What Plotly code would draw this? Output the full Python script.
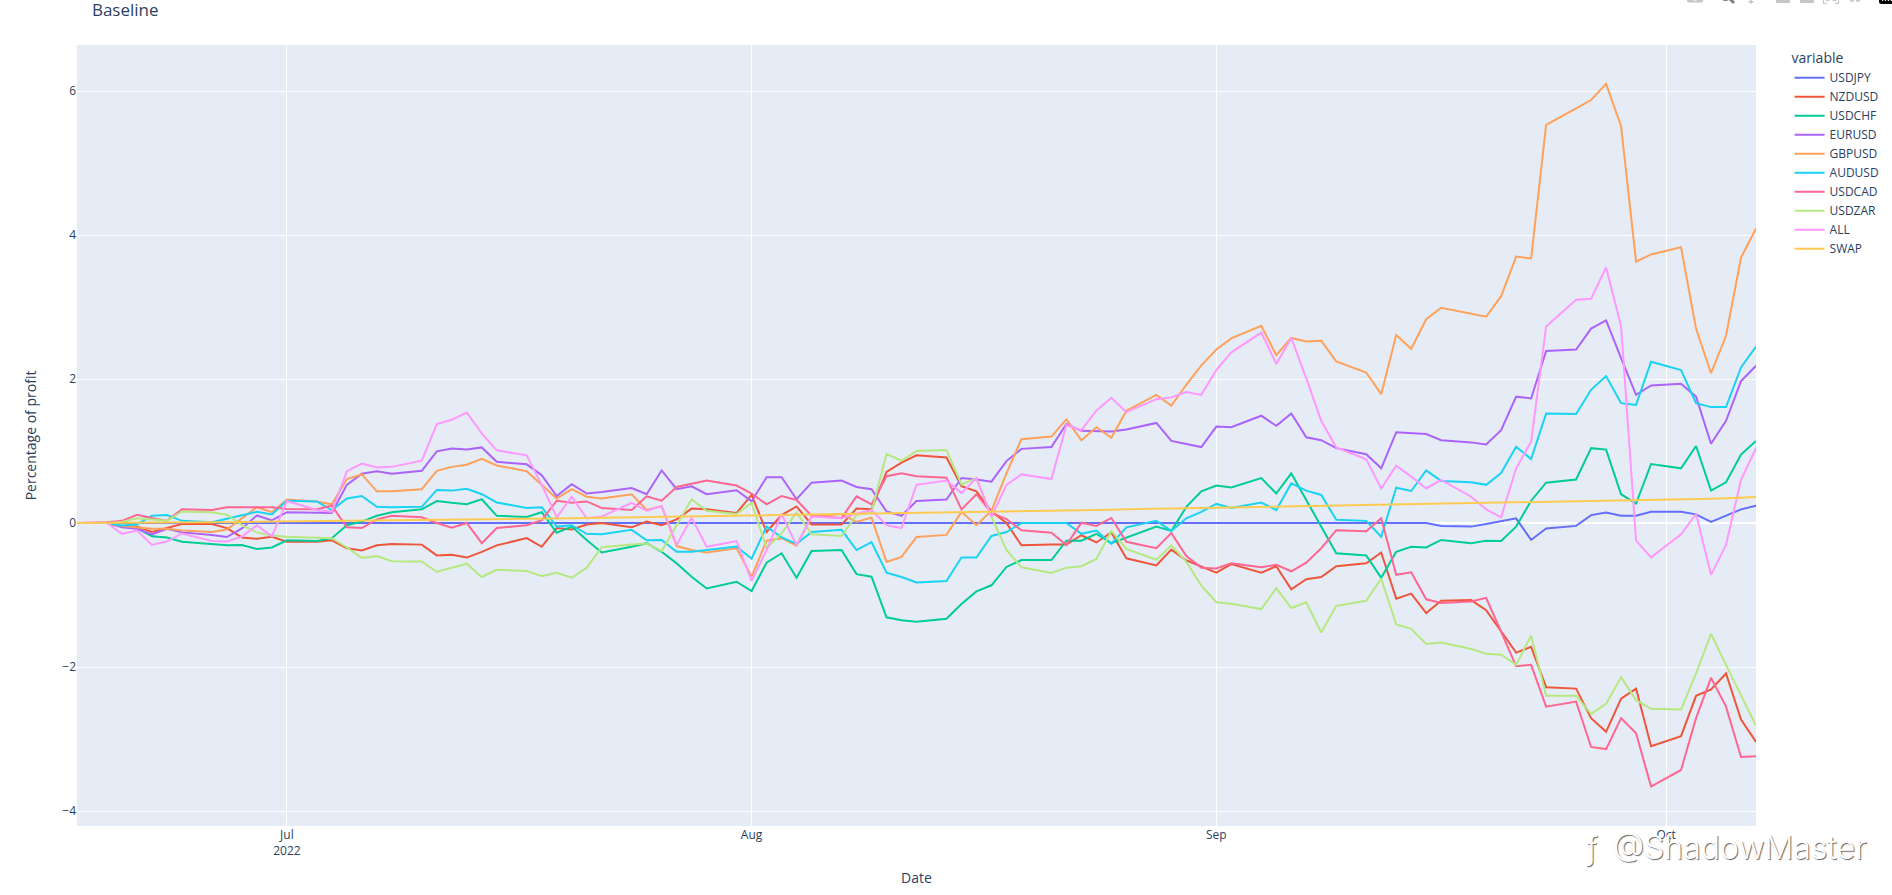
import plotly.graph_objects as go

dates = [
 "2022-06-17",
 "2022-06-19","2022-06-20","2022-06-21","2022-06-22","2022-06-23","2022-06-24",
 "2022-06-26","2022-06-27","2022-06-28","2022-06-29","2022-06-30","2022-07-01",
 "2022-07-03","2022-07-04","2022-07-05","2022-07-06","2022-07-07","2022-07-08",
 "2022-07-10","2022-07-11","2022-07-12","2022-07-13","2022-07-14","2022-07-15",
 "2022-07-17","2022-07-18","2022-07-19","2022-07-20","2022-07-21","2022-07-22",
 "2022-07-24","2022-07-25","2022-07-26","2022-07-27","2022-07-28","2022-07-29",
 "2022-07-31","2022-08-01","2022-08-02","2022-08-03","2022-08-04","2022-08-05",
 "2022-08-07","2022-08-08","2022-08-09","2022-08-10","2022-08-11","2022-08-12",
 "2022-08-14","2022-08-15","2022-08-16","2022-08-17","2022-08-18","2022-08-19",
 "2022-08-21","2022-08-22","2022-08-23","2022-08-24","2022-08-25","2022-08-26",
 "2022-08-28","2022-08-29","2022-08-30","2022-08-31","2022-09-01","2022-09-02",
 "2022-09-04","2022-09-05","2022-09-06","2022-09-07","2022-09-08","2022-09-09",
 "2022-09-11","2022-09-12","2022-09-13","2022-09-14","2022-09-15","2022-09-16",
 "2022-09-18","2022-09-19","2022-09-20","2022-09-21","2022-09-22","2022-09-23",
 "2022-09-25","2022-09-26","2022-09-27","2022-09-28","2022-09-29","2022-09-30",
 "2022-10-02","2022-10-03","2022-10-04","2022-10-05","2022-10-06","2022-10-07",
]

USDJPY = [0,
 0,0,0,0,0,0, 0,0,0,0,0,0, 0,0,0,0,0,0, 0,0,0,0,0,0, 0,0,0,0,0,0, 0,0,0,0,0,0,
 0,0,0,0,0,0, 0,0,0,0,0,0, 0,0,0,0,0,0, 0,0,0,0,0,0, 0,0,0,0,0,0, 0,0,0,0,0,0,
 0,0,0,0,0,-0.04,
 -0.05,-0.015,0.02,0.065,-0.235,-0.075,
 -0.04,0.11,0.145,0.1,0.1,0.155,
 0.155,0.12,0.015,0.1,0.19,0.24]
NZDUSD = [0,
 0,-0.05,-0.05,-0.125,-0.07,-0.015,
 -0.015,-0.07,-0.2,-0.22,-0.19,-0.26,
 -0.26,-0.24,-0.35,-0.38,-0.31,-0.29,
 -0.30,-0.45,-0.44,-0.48,-0.40,-0.31,
 -0.21,-0.33,-0.07,-0.09,-0.02,0,
 -0.06,0.02,-0.03,0.05,0.2,0.19,
 0.14,0.39,-0.125,0.11,0.23,-0.02,
 -0.02,0.2,0.19,0.71,0.84,0.94,
 0.91,0.51,0.44,0.16,0.0,-0.31,
 -0.30,-0.30,-0.17,-0.27,-0.13,-0.49,
 -0.59,-0.37,-0.52,-0.61,-0.69,-0.57,
 -0.69,-0.6,-0.92,-0.78,-0.75,-0.6,
 -0.56,-0.41,-1.05,-0.98,-1.25,-1.08,
 -1.07,-1.21,-1.5,-1.8,-1.72,-2.28,
 -2.3,-2.71,-2.9,-2.44,-2.3,-3.1,
 -2.96,-2.4,-2.31,-2.09,-2.73,-3.04]
USDCHF = [0,
 0,-0.05,-0.07,-0.185,-0.2,-0.26,
 -0.3,-0.31,-0.305,-0.36,-0.34,-0.24,
 -0.25,-0.21,-0.03,0.02,0.10,0.15,
 0.19,0.305,0.28,0.26,0.33,0.10,
 0.085,0.15,-0.135,-0.05,-0.235,-0.41,
 -0.33,-0.28,-0.4,-0.56,-0.745,-0.91,
 -0.815,-0.945,-0.55,-0.42,-0.76,-0.39,
 -0.375,-0.71,-0.745,-1.31,-1.35,-1.37,
 -1.33,-1.125,-0.95,-0.865,-0.61,-0.515,
 -0.515,-0.245,-0.245,-0.15,-0.28,-0.2,
 -0.05,-0.11,0.225,0.44,0.52,0.495,
 0.625,0.41,0.69,0.32,-0.05,-0.42,
 -0.45,-0.76,-0.4,-0.33,-0.34,-0.235,
 -0.28,-0.245,-0.25,-0.05,0.31,0.56,
 0.605,1.04,1.02,0.40,0.27,0.82,
 0.76,1.07,0.45,0.565,0.95,1.14]
EURUSD = [0,
 0,-0.06,-0.08,-0.16,-0.08,-0.13,
 -0.165,-0.195,-0.075,0.105,0.035,0.15,
 0.145,0.14,0.53,0.685,0.72,0.685,
 0.725,0.995,1.035,1.02,1.05,0.85,
 0.815,0.665,0.375,0.54,0.41,0.43,
 0.485,0.40,0.73,0.47,0.51,0.4,
 0.455,0.3,0.635,0.635,0.33,0.56,
 0.59,0.5,0.47,0.16,0.10,0.305,
 0.325,0.625,0.605,0.575,0.86,1.03,
 1.055,1.375,1.28,1.28,1.27,1.3,
 1.39,1.14,1.10,1.055,1.34,1.33,
 1.49,1.35,1.52,1.19,1.15,1.04,
 0.955,0.76,1.26,1.25,1.235,1.15,
 1.12,1.09,1.29,1.755,1.73,2.39,
 2.41,2.70,2.815,2.29,1.78,1.91,
 1.935,1.755,1.10,1.42,1.97,2.185]
GBPUSD = [0,
 0,-0.04,-0.06,-0.08,-0.08,-0.105,
 -0.125,-0.09,0.065,0.22,0.15,0.325,
 0.3,0.26,0.61,0.675,0.44,0.44,
 0.47,0.725,0.78,0.81,0.89,0.8,
 0.72,0.53,0.34,0.47,0.365,0.34,
 0.40,0.18,0.235,-0.32,-0.375,-0.41,
 -0.35,-0.745,-0.245,-0.21,-0.315,0.09,
 0.125,0.015,0.075,-0.54,-0.47,-0.195,
 -0.165,0.155,-0.03,0.17,0.69,1.165,
 1.2,1.44,1.15,1.33,1.185,1.56,
 1.78,1.63,1.92,2.19,2.41,2.565,
 2.74,2.33,2.57,2.52,2.53,2.245,
 2.09,1.79,2.61,2.42,2.83,2.99,
 2.91,2.865,3.15,3.7,3.675,5.53,
 5.76,5.875,6.1,5.51,3.63,3.73,
 3.83,2.70,2.08,2.6,3.685,4.09]
AUDUSD = [0,
 0,-0.035,-0.02,0.10,0.11,0.03,
 0.01,0.06,0.105,0.155,0.12,0.31,
 0.3,0.18,0.34,0.375,0.225,0.22,
 0.225,0.46,0.45,0.475,0.4,0.285,
 0.21,0.22,-0.05,-0.03,-0.15,-0.155,
 -0.095,-0.24,-0.235,-0.4,-0.4,-0.375,
 -0.325,-0.495,-0.05,-0.2,-0.29,-0.125,
 -0.095,-0.375,-0.265,-0.69,-0.75,-0.825,
 -0.805,-0.48,-0.48,-0.18,-0.125,0.0,
 0,0,-0.15,-0.105,-0.29,-0.06,
 0.03,-0.11,0.065,0.155,0.265,0.21,
 0.285,0.18,0.55,0.45,0.39,0.045,
 0.03,-0.19,0.49,0.445,0.73,0.585,
 0.565,0.53,0.695,1.06,0.89,1.52,
 1.515,1.85,2.04,1.665,1.64,2.24,
 2.125,1.665,1.61,1.61,2.16,2.45]
USDCAD = [0,
 0.01,0.03,0.115,0.07,0.03,0.19,
 0.18,0.22,0.22,0.21,0.22,0.195,
 0.19,0.24,-0.06,-0.07,0.05,0.10,
 0.08,0,-0.065,0,-0.28,-0.07,
 -0.03,0.04,0.31,0.28,0.3,0.21,
 0.18,0.37,0.31,0.5,0.55,0.59,
 0.52,0.41,0.26,0.375,0.32,0.1,
 0.07,0.37,0.26,0.65,0.69,0.65,
 0.63,0.19,0.4,0.14,0.055,-0.1,
 -0.135,-0.305,0.005,-0.04,0.07,-0.26,
 -0.35,-0.14,-0.46,-0.62,-0.63,-0.56,
 -0.615,-0.58,-0.67,-0.55,-0.35,-0.1,
 -0.115,0.065,-0.72,-0.685,-1.06,-1.11,
 -1.09,-1.04,-1.51,-1.99,-1.97,-2.55,
 -2.48,-3.11,-3.14,-2.71,-2.92,-3.66,
 -3.43,-2.71,-2.15,-2.55,-3.25,-3.24]
USDZAR = [0,
 0,0.015,0.065,0.05,0.03,0.16,
 0.15,0.115,-0.03,-0.13,-0.175,-0.19,
 -0.205,-0.21,-0.34,-0.485,-0.46,-0.53,
 -0.535,-0.68,-0.62,-0.565,-0.75,-0.65,
 -0.665,-0.74,-0.69,-0.76,-0.62,-0.335,
 -0.3,-0.285,-0.39,-0.03,0.33,0.17,
 0.125,0.28,-0.35,-0.145,0.145,-0.155,
 -0.18,0.11,0.155,0.96,0.865,1.0,
 1.015,0.535,0.62,0.09,-0.375,-0.615,
 -0.695,-0.62,-0.6,-0.5,-0.11,-0.36,
 -0.51,-0.31,-0.54,-0.87,-1.1,-1.12,
 -1.195,-0.905,-1.18,-1.1,-1.52,-1.15,
 -1.08,-0.77,-1.41,-1.47,-1.68,-1.66,
 -1.75,-1.815,-1.83,-1.97,-1.56,-2.4,
 -2.4,-2.65,-2.51,-2.14,-2.46,-2.58,
 -2.59,-2.09,-1.54,-1.97,-2.39,-2.815]
ALL = [0,
 0,-0.15,-0.105,-0.305,-0.255,-0.145,
 -0.25,-0.255,-0.19,-0.03,-0.185,0.305,
 0.18,0.155,0.72,0.825,0.77,0.78,
 0.865,1.375,1.435,1.535,1.245,1.01,
 0.94,0.53,0.08,0.365,0.065,0.09,
 0.28,0.17,0.235,-0.305,0.075,-0.33,
 -0.25,-0.805,-0.375,0.125,-0.31,0.09,
 0.065,0.13,0.18,-0.03,-0.07,0.53,
 0.59,0.415,0.625,0.09,0.53,0.675,
 0.61,1.36,1.29,1.56,1.74,1.54,
 1.72,1.745,1.82,1.78,2.125,2.37,
 2.645,2.21,2.57,2.01,1.42,1.05,
 0.885,0.48,0.795,0.645,0.48,0.6,
 0.365,0.19,0.08,0.76,1.13,2.73,
 3.1,3.115,3.55,2.735,-0.245,-0.477,
 -0.157,0.125,-0.72,-0.305,0.6,1.04]
SWAP = [0,
 0,0.002,0.004,0.006,0.007,0.008,
 0.01,0.012,0.014,0.016,0.018,0.02,
 0.022,0.024,0.027,0.03,0.032,0.034,
 0.036,0.038,0.04,0.042,0.045,0.047,
 0.052,0.058,0.062,0.065,0.069,0.072,
 0.078,0.082,0.086,0.09,0.094,0.098,
 0.104,0.108,0.112,0.115,0.118,0.122,
 0.128,0.131,0.135,0.138,0.142,0.145,
 0.151,0.154,0.157,0.16,0.163,0.166,
 0.172,0.175,0.179,0.182,0.186,0.19,
 0.197,0.2,0.204,0.207,0.211,0.215,
 0.222,0.225,0.229,0.232,0.236,0.24,
 0.247,0.25,0.254,0.258,0.262,0.265,
 0.272,0.276,0.279,0.283,0.286,0.29,
 0.297,0.301,0.305,0.309,0.312,0.316,
 0.323,0.33,0.337,0.345,0.352,0.36]

series = [("USDJPY", USDJPY), ("NZDUSD", NZDUSD), ("USDCHF", USDCHF), ("EURUSD", EURUSD),
          ("GBPUSD", GBPUSD), ("AUDUSD", AUDUSD), ("USDCAD", USDCAD), ("USDZAR", USDZAR),
          ("ALL", ALL), ("SWAP", SWAP)]

fig = go.Figure()
for name, vals in series:
    fig.add_trace(go.Scatter(x=dates, y=vals, name=name, mode="lines", line=dict(width=2)))

watermark_font = dict(family="Inter", size=32, color="white", weight=300, shadow="1px 1px 1px #666")

fig.update_layout(
    template="plotly",
    width=1892, height=895,
    margin=dict(l=77, r=136, t=45, b=69, autoexpand=False),
    title=dict(text="Baseline", x=0.0486, xanchor="left", y=0.9885, yanchor="middle"),
    legend=dict(title=dict(text="variable"), tracegroupgap=0),
    xaxis=dict(title=dict(text="Date"), range=["2022-06-17", "2022-10-07"],
               dtick="M1", tick0="2022-07-01", tickformat="%b\n%Y"),
    yaxis=dict(title=dict(text="Percentage of profit", standoff=22), range=[-4.208, 6.639]),
    annotations=[
        dict(text="@ShadowMaster", xref="paper", yref="paper", x=1.0675, y=-0.0275,
             xanchor="right", yanchor="middle", showarrow=False, font=watermark_font),
        dict(text="ƒ", xref="paper", yref="paper", x=0.907, y=-0.0275,
             xanchor="right", yanchor="middle", showarrow=False, font=watermark_font),
    ],
)

post = """
document.body.style.margin='0';
var s=document.createElement('style');
s.textContent='.js-plotly-plot .plotly .modebar{top:-15px !important;right:-7px !important;}';
document.head.appendChild(s);
"""
fig.write_html("out.html", post_script=post)
